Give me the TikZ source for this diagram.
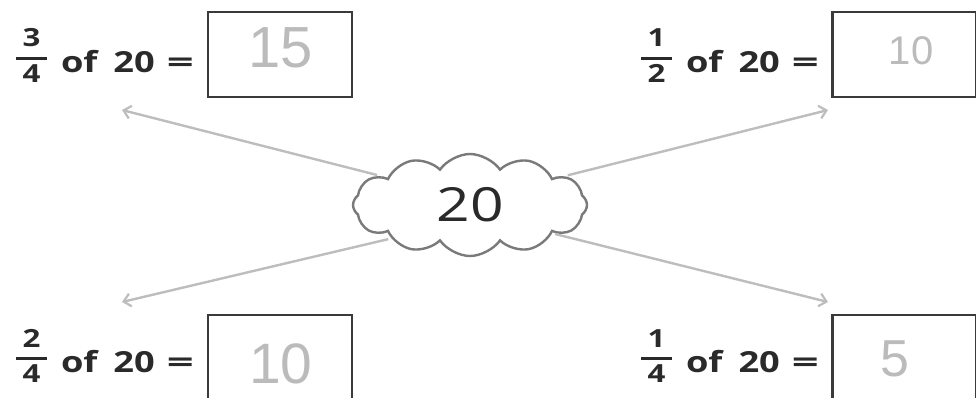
\documentclass[tikz,border=0pt]{standalone}
\usepackage{fontspec}
\setmainfont{Open Sans}[FakeStretch=1.25]
\newfontfamily\handfont{Liberation Sans}
\usetikzlibrary{shapes.symbols,arrows.meta}
\definecolor{boxline}{HTML}{3A3A3A}
\definecolor{arrowc}{HTML}{BDBDBD}
\definecolor{cloudc}{HTML}{7A7A7A}
\definecolor{handc}{HTML}{BBBBBB}
\definecolor{textc}{HTML}{2A2A2A}
\newcommand{\myfr}[2]{\raisebox{-10pt}{\vbox{\fontsize{25}{25}\selectfont\offinterlineskip
  \halign{\hfil##\hfil\cr #1\cr\noalign{\kern10pt}\rule{31pt}{3pt}\cr\noalign{\kern4pt}#2\cr}}}}
\newcommand{\mylabel}[2]{\myfr{#1}{#2}\hspace{14pt}of\hspace{16pt}20\hspace{12pt}\scalebox{1.3}[1]{=}}
\tikzset{
  ansbox/.style={draw=boxline, line width=2.4pt, minimum width=144pt, minimum height=85pt, inner sep=0pt},
  hand/.style={font=\handfont\fontsize{#1}{#1}\selectfont, text=handc, inner sep=0pt},
  lbl/.style={font=\bfseries\fontsize{29}{30}\selectfont, text=textc, anchor=base east, inner sep=0pt},
  conn/.style={draw=arrowc, line width=2.4pt, -{Straight Barb[length=7pt,width=13pt,line width=2.2pt]}},
}
\begin{document}
\begin{tikzpicture}[x=1pt,y=-1pt]
\useasboundingbox (0,0) rectangle (976,397);
\clip (0,0) rectangle (976,397);
% boxes
\node[ansbox] (btl) at (280,54.5) {};
\node[ansbox] (btr) at (904.5,54.5) {};
\node[ansbox] (bbl) at (280,357.5) {};
\node[ansbox] (bbr) at (904.5,357.5) {};
% answers
\node[hand=58] (atl) at (281,48) {15};
\node[hand=40] (atr) at (911,51) {10};
\node[hand=57] (abl) at (281,364) {10};
\node[hand=52] (abr) at (895,359) {5};
% labels
\node[lbl] (ltl) at (194,72) {\mylabel{3}{4}};
\node[lbl] (ltr) at (819,72) {\mylabel{1}{2}};
\node[lbl] (lbl) at (194,372) {\mylabel{2}{4}};
\node[lbl] (lbr) at (819,372) {\mylabel{1}{4}};
% cloud
\node[cloud, cloud puffs=12, cloud puff arc=110, aspect=2.3, draw=cloudc, line width=2.4pt, fill=white,
      minimum width=234pt, minimum height=102pt, inner sep=0pt,
      font=\fontsize{47}{47}\selectfont, text=textc] (cloud) at (470,205) {20};
% arrow ends
\coordinate (etl) at (122,110);
\coordinate (etr) at (828,110);
\coordinate (ebl) at (122,302);
\coordinate (ebr) at (828,302);
\draw[conn, shorten <=3pt] (cloud.162) -- (etl);
\draw[conn, shorten <=3pt] (cloud.17) -- (etr);
\draw[conn, shorten <=3pt] (cloud.203) -- (ebl);
\draw[conn, shorten <=3pt] (cloud.341) -- (ebr);
\end{tikzpicture}
\end{document}
